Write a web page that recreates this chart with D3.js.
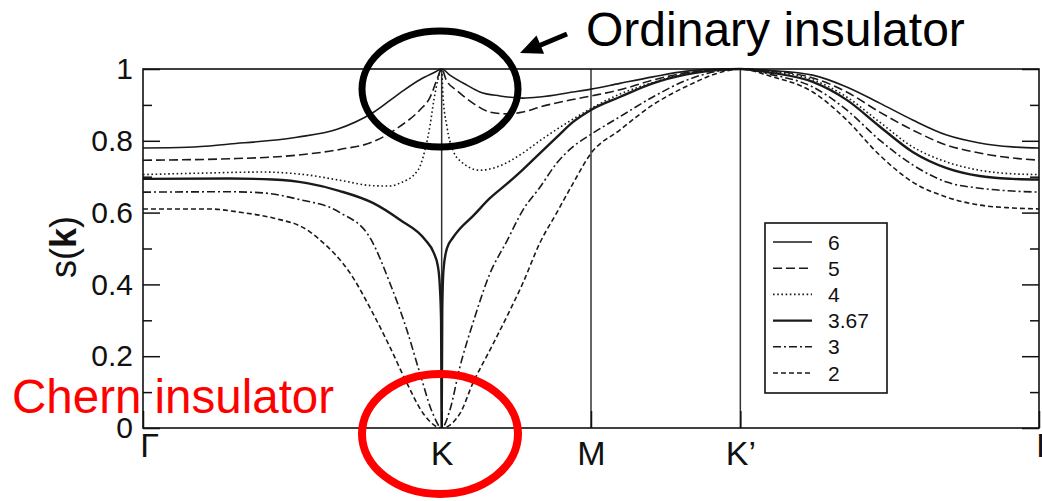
<!DOCTYPE html>
<html>
<head>
<meta charset="utf-8">
<script src="https://cdn.jsdelivr.net/npm/d3@7/dist/d3.min.js"></script>
<style>
  html, body { margin: 0; padding: 0; background: #fff; }
  svg { display: block; }
  text { font-family: "Liberation Sans", Arial, Helvetica, sans-serif; }
</style>
</head>
<body>
<svg id="chart" width="1042" height="501"></svg>
<script>
// Path through the Brillouin zone: Γ → K → M → K' → Γ (|ΓK| = 2|KM|)
const kPositions = [0, 2, 3, 4, 6];
const kLabels = ["Γ", "K", "M", "K’", "Γ"];

// Y axis ticks
const yMajorTicks = [0, 0.2, 0.4, 0.6, 0.8, 1];
const yTickLabels = ["0", "0.2", "0.4", "0.6", "0.8", "1"];
const yMinorTicks = [0.1, 0.3, 0.5, 0.7, 0.9];

// Legend entries (model parameter for each curve)
const seriesNames = ["6", "5", "4", "3.67", "3", "2"];

// s(k) along the path, [k, s] pairs
const s6 = [[0,0.78],[0.3,0.782],[0.58,0.791],[1.03,0.81],[1.3,0.832],[1.539,0.878],[1.72,0.933],[1.854,0.97],[1.95,0.99],[2,1],
  [2.055,0.983],[2.169,0.955],[2.256,0.936],[2.39,0.925],[2.544,0.919],[2.657,0.922],[2.878,0.936],[3,0.944],[3.193,0.96],
  [3.414,0.978],[3.641,0.994],[3.862,1.0],[4,1],[4.2,0.996],[4.485,0.983],[4.712,0.95],[4.933,0.905],[5.154,0.858],
  [5.382,0.816],[5.602,0.794],[5.823,0.783],[6,0.78]];
const s5 = [[0,0.746],[0.58,0.75],[1.03,0.76],[1.319,0.776],[1.539,0.797],[1.72,0.84],[1.854,0.886],[1.921,0.92],[1.968,0.97],[2,1],
  [2.03,0.97],[2.102,0.94],[2.209,0.905],[2.323,0.88],[2.436,0.875],[2.544,0.88],[2.657,0.894],[2.878,0.915],[3,0.925],
  [3.193,0.942],[3.414,0.969],[3.641,0.99],[3.862,0.999],[4,1],[4.2,0.995],[4.485,0.975],[4.712,0.936],[4.933,0.88],
  [5.154,0.83],[5.382,0.788],[5.602,0.766],[5.823,0.752],[6,0.746]];
const s4 = [[0,0.706],[0.4,0.71],[0.8,0.713],[1.098,0.705],[1.319,0.69],[1.539,0.675],[1.65,0.674],[1.72,0.682],[1.841,0.718],
  [1.888,0.774],[1.921,0.84],[1.948,0.914],[1.975,0.97],[2,1],[2.008,0.93],[2.035,0.84],[2.075,0.774],[2.142,0.738],
  [2.256,0.718],[2.369,0.727],[2.544,0.766],[2.657,0.8],[2.878,0.86],[3,0.89],[3.193,0.93],[3.414,0.962],[3.641,0.988],
  [3.862,0.999],[4,1],[4.2,0.993],[4.485,0.97],[4.712,0.922],[4.933,0.852],[5.154,0.783],[5.382,0.741],[5.602,0.718],
  [5.823,0.708],[6,0.706]];
const s367 = [[0,0.694],[0.58,0.695],[0.87,0.692],[1.098,0.682],[1.319,0.66],[1.539,0.627],[1.72,0.58],[1.888,0.525],
  [1.948,0.487],[1.975,0.45],[1.987,0.40],[1.996,0.3],[2,0],[2.004,0.33],[2.012,0.44],[2.035,0.5],[2.075,0.53],
  [2.122,0.555],[2.209,0.59],[2.323,0.64],[2.436,0.68],[2.544,0.72],[2.657,0.765],[2.771,0.81],[2.878,0.852],[3,0.886],
  [3.193,0.922],[3.414,0.96],[3.641,0.985],[3.862,0.998],[4,1],[4.2,0.99],[4.485,0.964],[4.712,0.914],[4.933,0.84],
  [5.154,0.769],[5.382,0.724],[5.602,0.702],[5.823,0.694],[6,0.692]];
const s3 = [[0,0.657],[0.58,0.658],[0.8,0.655],[1.03,0.638],[1.319,0.6],[1.52,0.53],[1.653,0.404],[1.767,0.273],[1.854,0.153],
  [1.941,0.04],[2,0],[2.055,0.05],[2.122,0.17],[2.209,0.292],[2.323,0.43],[2.436,0.52],[2.544,0.607],[2.657,0.67],
  [2.771,0.738],[2.878,0.783],[3,0.818],[3.193,0.867],[3.414,0.922],[3.641,0.969],[3.862,0.995],[4,1],[4.2,0.985],
  [4.485,0.95],[4.712,0.886],[4.933,0.802],[5.154,0.733],[5.382,0.685],[5.602,0.668],[5.823,0.66],[6,0.657]];
const s2 = [[0,0.61],[0.448,0.61],[0.649,0.601],[0.87,0.585],[1.098,0.552],[1.185,0.524],[1.386,0.432],[1.539,0.32],
  [1.653,0.226],[1.767,0.125],[1.874,0.042],[2,0],[2.122,0.04],[2.209,0.125],[2.323,0.217],[2.436,0.31],[2.544,0.404],
  [2.657,0.515],[2.771,0.6],[2.878,0.68],[3,0.765],[3.193,0.83],[3.414,0.9],[3.641,0.952],[3.862,0.99],[4,1],[4.2,0.98],
  [4.485,0.936],[4.712,0.858],[4.933,0.76],[5.154,0.685],[5.382,0.643],[5.602,0.621],[5.823,0.613],[6,0.61]];

const seriesData = [s6, s5, s4, s367, s3, s2];
// line style per curve: dash pattern and width
const seriesStyle = [
  { dash: null,        width: 1.6 },
  { dash: "9,4",       width: 1.6 },
  { dash: "1.6,2.6",   width: 1.6 },
  { dash: null,        width: 2.4 },
  { dash: "8,3,2,3",   width: 1.6 },
  { dash: "5,3",       width: 1.6 }
];

const svg = d3.select("#chart");
const plot = { left: 143, right: 1039, top: 69, bottom: 428 };

const x = d3.scaleLinear().domain([0, 6]).range([plot.left, plot.right]);
const y = d3.scaleLinear().domain([0, 1]).range([plot.bottom, plot.top]);

svg.append("defs").append("clipPath").attr("id", "plotClip")
  .append("rect")
  .attr("x", plot.left).attr("y", plot.top - 2)
  .attr("width", plot.right - plot.left).attr("height", plot.bottom - plot.top + 2);

// high-symmetry vertical lines
svg.append("g").selectAll("line")
  .data(kPositions.slice(1, 4))
  .join("line")
  .attr("x1", d => x(d)).attr("x2", d => x(d))
  .attr("y1", y(0)).attr("y2", y(1))
  .attr("stroke", "#333").attr("stroke-width", 1.5);

// curves
const line = d3.line()
  .x(d => x(d[0])).y(d => y(d[1]))
  .curve(d3.curveMonotoneX);

svg.append("g").attr("clip-path", "url(#plotClip)")
  .selectAll("path")
  .data(seriesData)
  .join("path")
  .attr("d", line)
  .attr("fill", "none")
  .attr("stroke", "#1a1a1a")
  .attr("stroke-width", (d, i) => seriesStyle[i].width)
  .attr("stroke-dasharray", (d, i) => seriesStyle[i].dash);

// frame
svg.append("rect")
  .attr("x", plot.left).attr("y", plot.top)
  .attr("width", plot.right - plot.left).attr("height", plot.bottom - plot.top)
  .attr("fill", "none").attr("stroke", "#111").attr("stroke-width", 1.6);

// y axes (ticks point inward)
const yAxisL = d3.axisLeft(y).tickValues(yMajorTicks).tickSize(-17).tickPadding(10)
  .tickFormat((d, i) => yTickLabels[i]);
const gL = svg.append("g").attr("transform", `translate(${plot.left},0)`).call(yAxisL);
gL.select(".domain").remove();
gL.selectAll(".tick line").attr("stroke", "#111").attr("stroke-width", 1.5);
gL.selectAll(".tick text").attr("font-size", 30).attr("fill", "#111")
  .attr("font-family", "'Liberation Sans', Arial, sans-serif");

const gLm = svg.append("g").attr("transform", `translate(${plot.left},0)`)
  .call(d3.axisLeft(y).tickValues(yMinorTicks).tickSize(-9).tickFormat(""));
gLm.select(".domain").remove();
gLm.selectAll(".tick line").attr("stroke", "#111").attr("stroke-width", 1.5);

const gR = svg.append("g").attr("transform", `translate(${plot.right},0)`)
  .call(d3.axisRight(y).tickValues(yMajorTicks).tickSize(-17).tickFormat(""));
gR.select(".domain").remove();
gR.selectAll(".tick line").attr("stroke", "#111").attr("stroke-width", 1.5);
const gRm = svg.append("g").attr("transform", `translate(${plot.right},0)`)
  .call(d3.axisRight(y).tickValues(yMinorTicks).tickSize(-9).tickFormat(""));
gRm.select(".domain").remove();
gRm.selectAll(".tick line").attr("stroke", "#111").attr("stroke-width", 1.5);

// x axis: high-symmetry labels
const xAxis = d3.axisBottom(x).tickValues(kPositions).tickSize(-17).tickPadding(10)
  .tickFormat((d, i) => kLabels[i]);
const gB = svg.append("g").attr("transform", `translate(0,${plot.bottom})`).call(xAxis);
gB.select(".domain").remove();
gB.selectAll(".tick line").attr("stroke", "#111").attr("stroke-width", 1.5);
gB.selectAll(".tick text")
  .attr("font-size", (d, i) => kLabels[i] === "Γ" ? 34 : 34)
  .attr("font-family", (d, i) => kLabels[i] === "Γ" ? "'Liberation Serif', 'Times New Roman', serif" : "'Liberation Sans', Arial, sans-serif")
  .attr("dx", (d, i) => kLabels[i] === "Γ" ? 6 : 0)
  .attr("dy", (d, i) => kLabels[i] === "Γ" ? "0.55em" : "0.8em")
  .attr("fill", "#111");

// y label s(k)
const yl = svg.append("text")
  .attr("transform", "translate(76,247) rotate(-90)")
  .attr("text-anchor", "middle")
  .attr("font-size", 36).attr("fill", "#111");
yl.append("tspan").text("s(");
yl.append("tspan").attr("font-weight", "bold").text("k");
yl.append("tspan").text(")");

// legend
const legend = svg.append("g");
legend.append("rect")
  .attr("x", 765).attr("y", 223).attr("width", 122).attr("height", 170)
  .attr("fill", "#fff").attr("stroke", "#111").attr("stroke-width", 1.6);
const rowY = d3.scalePoint().domain(seriesNames).range([242, 373]);
const rows = legend.selectAll("g.row").data(seriesNames).join("g").attr("class", "row");
rows.append("line")
  .attr("x1", 773).attr("x2", 812)
  .attr("y1", d => rowY(d)).attr("y2", d => rowY(d))
  .attr("stroke", "#1a1a1a")
  .attr("stroke-width", (d, i) => seriesStyle[i].width)
  .attr("stroke-dasharray", (d, i) => seriesStyle[i].dash);
rows.append("text")
  .attr("x", 828).attr("y", d => rowY(d)).attr("dy", "0.36em")
  .attr("font-size", 21).attr("fill", "#111")
  .text(d => d);

// annotations
svg.append("ellipse")
  .attr("cx", 440).attr("cy", 89).attr("rx", 78).attr("ry", 58)
  .attr("fill", "none").attr("stroke", "#000").attr("stroke-width", 7);
svg.append("ellipse")
  .attr("cx", 440).attr("cy", 434).attr("rx", 78).attr("ry", 60)
  .attr("fill", "none").attr("stroke", "#ff0000").attr("stroke-width", 8);

svg.append("line")
  .attr("x1", 567).attr("y1", 34).attr("x2", 536).attr("y2", 47)
  .attr("stroke", "#000").attr("stroke-width", 5);
svg.append("polygon")
  .attr("points", "520,53 536.5,35.4 544.1,53.8")
  .attr("fill", "#000");

svg.append("text")
  .attr("x", 586).attr("y", 46)
  .attr("font-size", 48).attr("fill", "#000")
  .text("Ordinary insulator");
svg.append("text")
  .attr("x", 12).attr("y", 413)
  .attr("font-size", 47.5).attr("fill", "#ff0000")
  .text("Chern insulator");
</script>
</body>
</html>
